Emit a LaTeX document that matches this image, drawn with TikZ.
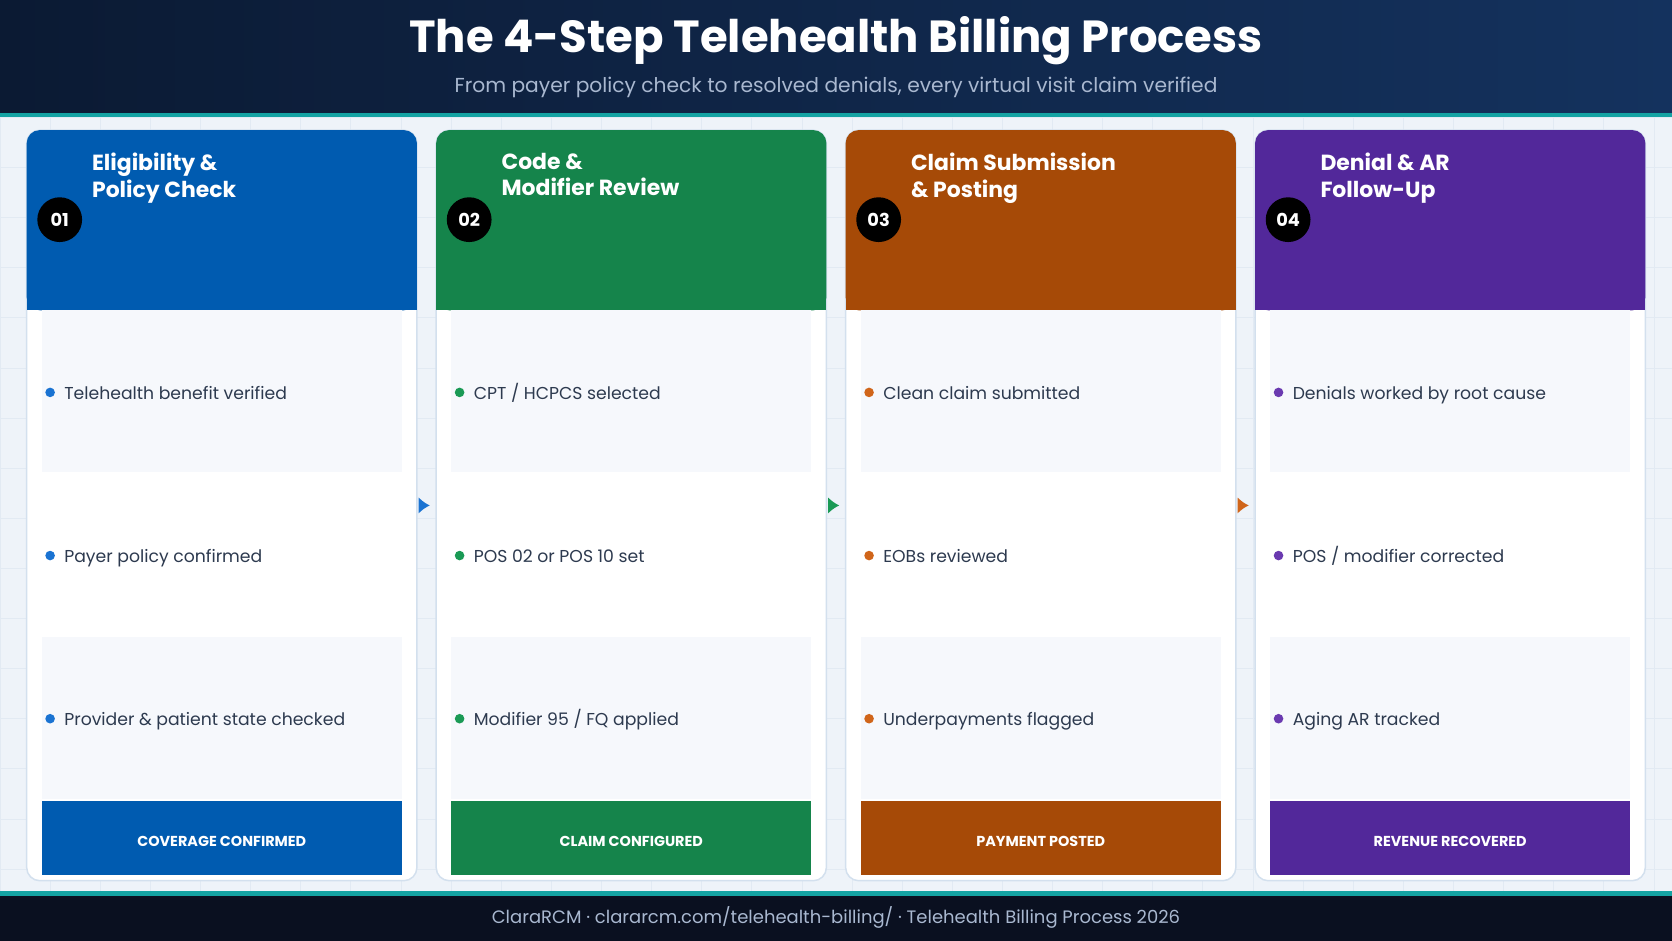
\documentclass[tikz,border=0pt]{standalone}
\usepackage{fontspec}
\setmainfont{Poppins}
\usetikzlibrary{positioning,arrows.meta}
\definecolor{hdrA}{HTML}{0B1A33}
\definecolor{hdrB}{HTML}{14325E}
\definecolor{teal}{HTML}{14A3A3}
\definecolor{foot}{HTML}{0A1020}
\definecolor{bgpage}{HTML}{EEF3F9}
\definecolor{gridc}{HTML}{E2EAF3}
\definecolor{subt}{HTML}{A9B8D0}
\definecolor{txt}{HTML}{2D3A4F}
\definecolor{rowc}{HTML}{F6F8FC}
\definecolor{edgec}{HTML}{D3E0EE}
\definecolor{cA}{HTML}{005BB0}\definecolor{dA}{HTML}{1A73D2}
\definecolor{cB}{HTML}{15844B}\definecolor{dB}{HTML}{1A9A55}
\definecolor{cC}{HTML}{A64A07}\definecolor{dC}{HTML}{D0651A}
\definecolor{cD}{HTML}{52289A}\definecolor{dD}{HTML}{6A3AB0}
\tikzset{
  card/.style={draw=edgec, line width=0.8pt, fill=white, rounded corners=7pt,
    minimum width=7.32cm, minimum height=14.08cm, inner sep=0pt},
  badge/.style={circle, fill=black, minimum size=0.84cm, inner sep=0pt,
    text=white, font=\bfseries\fontsize{9.5}{11}\selectfont},
  ctitle/.style={anchor=north west, text=white, align=left,
    font=\bfseries\fontsize{11.7}{14.2}\selectfont, inner sep=0pt},
  item/.style={anchor=west, text=txt, font=\fontsize{9.2}{11}\selectfont, inner sep=0pt,
    text height=6.5pt, text depth=1.5pt},
  bar/.style={minimum width=6.76cm, minimum height=1.4cm, inner sep=0pt,
    text=white, font=\bfseries\fontsize{7.7}{9}\selectfont},
}
\begin{document}
\begin{tikzpicture}[x=0.02cm, y=-0.02cm]
  \useasboundingbox (0,0) rectangle (1568,882);
  % page
  \fill[bgpage] (0,0) rectangle (1568,882);
  \foreach \g in {0,47,...,1568} \draw[gridc, line width=0.4pt] (\g,110) -- (\g,836);
  \foreach \g in {110,157,...,836} \draw[gridc, line width=0.4pt] (0,\g) -- (1568,\g);
  % header and footer
  \shade[left color=hdrA, right color=hdrB] (0,0) rectangle (1568,106);
  \fill[teal] (0,106) rectangle (1568,110);
  \fill[teal] (0,836) rectangle (1568,840);
  \fill[foot] (0,840) rectangle (1568,882);
  \node[text=white, font=\bfseries\fontsize{24}{28}\selectfont] (title) at (784,38)
    {The 4-Step Telehealth Billing Process};
  \node[text=subt, font=\fontsize{10.8}{13}\selectfont] (subtitle) at (784,82)
    {From payer policy check to resolved denials, every virtual visit claim verified};
  \node[text=subt, font=\fontsize{9.6}{11}\selectfont] (footer) at (784,860)
    {ClaraRCM · clararcm.com/telehealth-billing/ · Telehealth Billing Process 2026};

  % cards
  \foreach \i/\c/\d/\ta/\tb/\ia/\ib/\ic/\bl in {%
      1/cA/dA/Eligibility \&/Policy Check/Telehealth benefit verified/Payer policy confirmed/Provider \& patient state checked/COVERAGE CONFIRMED,%
      2/cB/dB/Code \&/Modifier Review/{CPT / HCPCS selected}/POS 02 or POS 10 set/{Modifier 95 / FQ applied}/CLAIM CONFIGURED,%
      3/cC/dC/Claim Submission/\& Posting/Clean claim submitted/EOBs reviewed/Underpayments flagged/PAYMENT POSTED,%
      4/cD/dD/Denial \& AR/Follow-Up/Denials worked by root cause/{POS / modifier corrected}/Aging AR tracked/REVENUE RECOVERED}{
    \pgfmathsetmacro{\x}{25+384*(\i-1)}
    \node[card] (card\i) at (\x+183,474) {};
    \fill[\c, rounded corners=7pt] (\x,122) rectangle (\x+366,291);
    \fill[\c] (\x,250) rectangle (\x+366,291);
    \fill[rowc] (\x+14,291) rectangle (\x+352,443);
    \fill[rowc] (\x+14,597) rectangle (\x+352,749);
    \node[badge] (badge\i) at (\x+31,206) {0\i};
    \node[ctitle] (head\i) at (\x+61,143) {\ta\\\tb};
    \foreach \t [count=\k] in {\ia,\ib,\ic}{
      \fill[\d] (\x+22,215+153*\k) circle (4.5);
      \node[item] (item\i\k) at (\x+35,217+153*\k) {\t};
    }
    \node[bar, fill=\c] (bar\i) at (\x+183,786) {};
    \node[text=white, font=\bfseries\fontsize{7.7}{9}\selectfont] (label\i) at (\x+183,789) {\bl};
  }
  % links between steps
  \foreach \a/\b/\d in {1/2/dA,2/3/dB,3/4/dC}
    \draw[\d, line width=2.2pt, -{Latex[length=6pt,width=9pt]}, shorten <=1pt, shorten >=3pt]
      (card\a.east) -- (card\b.west);
\end{tikzpicture}
\end{document}
